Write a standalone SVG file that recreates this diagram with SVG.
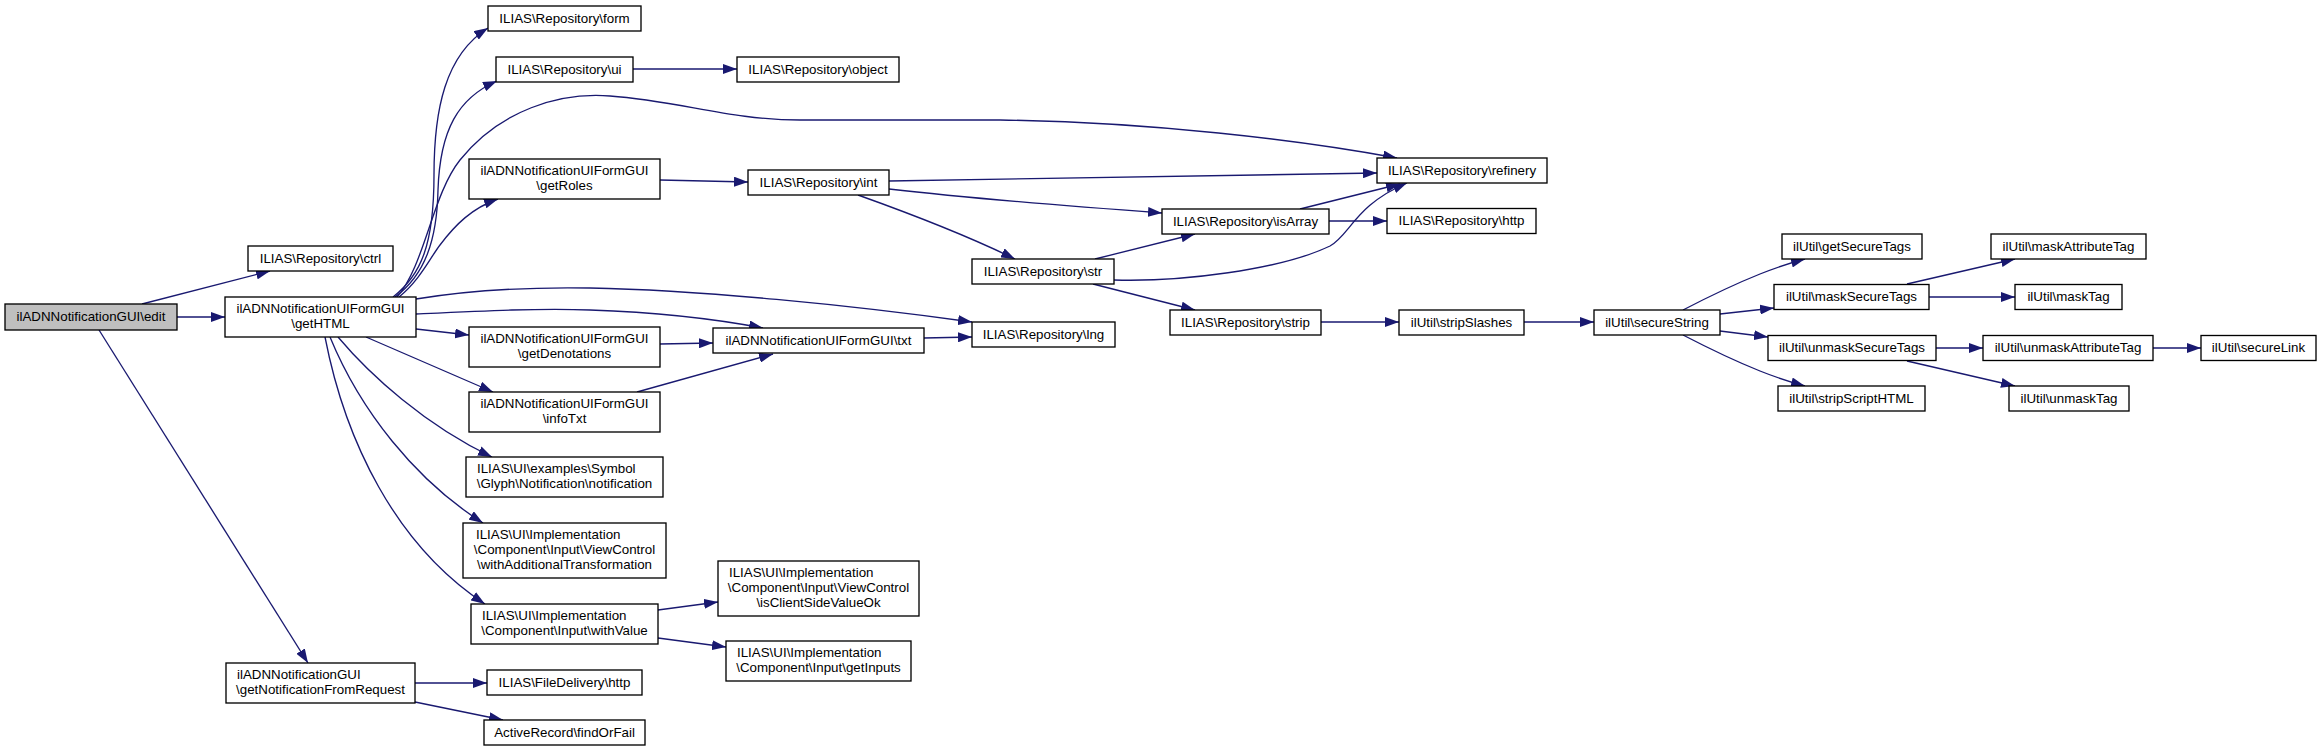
<svg xmlns="http://www.w3.org/2000/svg" width="2321" height="752" viewBox="0 0 2321 752">
<style>
.n rect{fill:#fff;stroke:#000;stroke-width:1.33}
.n text{font-family:"Liberation Sans",Arial,sans-serif;font-size:13.33px;fill:#000;text-anchor:middle}
.n text.l{text-anchor:start}
.e path{fill:none;stroke:#191970;stroke-width:1.33;marker-end:url(#ah)}
</style>
<defs>
<marker id="ah" markerWidth="14" markerHeight="10" refX="14" refY="5" orient="auto" markerUnits="userSpaceOnUse">
<path d="M0,0 L14,5 L0,10 z" fill="#191970"/>
</marker>
</defs>
<rect width="2321" height="752" fill="#fff"/>
<g id="edges" class="e">
<path d="M142,304 L270,271"/>
<path d="M177,317 L225,317"/>
<path d="M99,330 L308,663"/>
<path d="M393,297 C421,275 434,245 434,175 C434,110 445,55 488,28"/>
<path d="M395,297 C425,275 437,240 438,190 C440,130 458,98 497,81"/>
<path d="M397,297 C425,265 432,195 460,160 C500,110 560,92 610,96 C680,101 730,120 800,120 L1000,120 C1150,122 1300,140 1397,158"/>
<path d="M399,297 C420,280 430,258 440,245 C455,225 472,208 498,199"/>
<path d="M416,299 C470,290 530,287 590,288 C700,290 850,305 972,322"/>
<path d="M416,314 C480,311 540,308 590,310 C650,312 710,318 763,328"/>
<path d="M416,329 L469,335"/>
<path d="M366,337 L493,392"/>
<path d="M338,337 C370,375 425,425 492,457"/>
<path d="M330,337 C360,410 415,480 483,523"/>
<path d="M325,337 C345,440 395,545 485,604"/>
<path d="M633,69 L737,69"/>
<path d="M660,180 L748,182"/>
<path d="M889,181 L1377,173"/>
<path d="M889,189 C950,196 1080,207 1162,213"/>
<path d="M858,195 C900,210 960,232 1015,259"/>
<path d="M660,344 L713,343"/>
<path d="M637,392 L773,354"/>
<path d="M924,338 L972,337"/>
<path d="M1095,259 L1195,234"/>
<path d="M1114,280 C1180,282 1280,270 1330,246 C1350,235 1355,205 1407,183"/>
<path d="M1093,284 L1195,310"/>
<path d="M1300,209 L1400,184"/>
<path d="M1329,221 L1387,221"/>
<path d="M1321,322 L1399,322"/>
<path d="M1524,322 L1594,322"/>
<path d="M1683,310 C1710,296 1740,282 1760,274 C1775,268 1790,263 1805,259"/>
<path d="M1720,314 L1774,308"/>
<path d="M1720,331 L1768,337"/>
<path d="M1683,335 C1710,349 1740,363 1760,371 C1775,377 1790,382 1805,386"/>
<path d="M1907,284 L2015,259"/>
<path d="M1929,297 L2015,297"/>
<path d="M1936,348 L1983,348"/>
<path d="M1907,361 L2015,386"/>
<path d="M2153,348 L2201,348"/>
<path d="M658,610 L718,602"/>
<path d="M658,638 L726,647"/>
<path d="M415,683 L487,683"/>
<path d="M415,702 L503,720"/>
</g>
<g id="edit" class="n"><rect x="5" y="304" width="172" height="26" style="fill:#bfbfbf"/><text x="91" y="321">ilADNNotificationGUI\edit</text></g>
<g id="ctrl" class="n"><rect x="248" y="246" width="145" height="25"/><text x="320.5" y="262.5">ILIAS\Repository\ctrl</text></g>
<g id="getHTML" class="n"><rect x="225" y="297" width="191" height="40"/><text x="320.5" y="313">ilADNNotificationUIFormGUI</text><text x="320.5" y="328">\getHTML</text></g>
<g id="getNotificationFromRequest" class="n"><rect x="226" y="663" width="189" height="40"/><text class="l" x="237" y="679">ilADNNotificationGUI</text><text x="320.5" y="694">\getNotificationFromRequest</text></g>
<g id="form" class="n"><rect x="488" y="6" width="153" height="25"/><text x="564.5" y="22.5">ILIAS\Repository\form</text></g>
<g id="ui" class="n"><rect x="496" y="57" width="137" height="25"/><text x="564.5" y="73.5">ILIAS\Repository\ui</text></g>
<g id="object" class="n"><rect x="737" y="57" width="162" height="25"/><text x="818" y="73.5">ILIAS\Repository\object</text></g>
<g id="getRoles" class="n"><rect x="469" y="159" width="191" height="40"/><text x="564.5" y="175">ilADNNotificationUIFormGUI</text><text x="564.5" y="190">\getRoles</text></g>
<g id="int" class="n"><rect x="748" y="170" width="141" height="25"/><text x="818.5" y="186.5">ILIAS\Repository\int</text></g>
<g id="getDenotations" class="n"><rect x="469" y="327" width="191" height="40"/><text x="564.5" y="343">ilADNNotificationUIFormGUI</text><text x="564.5" y="358">\getDenotations</text></g>
<g id="txt" class="n"><rect x="713" y="328" width="211" height="25"/><text x="818.5" y="344.5">ilADNNotificationUIFormGUI\txt</text></g>
<g id="infoTxt" class="n"><rect x="469" y="392" width="191" height="40"/><text x="564.5" y="408">ilADNNotificationUIFormGUI</text><text x="564.5" y="423">\infoTxt</text></g>
<g id="notification" class="n"><rect x="466" y="457" width="197" height="40"/><text class="l" x="477" y="473">ILIAS\UI\examples\Symbol</text><text x="564.5" y="488">\Glyph\Notification\notification</text></g>
<g id="withAdditionalTransformation" class="n"><rect x="463" y="523" width="203" height="55"/><text class="l" x="476" y="539">ILIAS\UI\Implementation</text><text x="564.5" y="554">\Component\Input\ViewControl</text><text x="564.5" y="569">\withAdditionalTransformation</text></g>
<g id="withValue" class="n"><rect x="471" y="604" width="187" height="40"/><text class="l" x="482" y="620">ILIAS\UI\Implementation</text><text x="564.5" y="635">\Component\Input\withValue</text></g>
<g id="isClientSideValueOk" class="n"><rect x="718" y="561" width="201" height="55"/><text class="l" x="729" y="577">ILIAS\UI\Implementation</text><text x="818.5" y="592">\Component\Input\ViewControl</text><text x="818.5" y="607">\isClientSideValueOk</text></g>
<g id="getInputs" class="n"><rect x="726" y="641" width="185" height="40"/><text class="l" x="737" y="657">ILIAS\UI\Implementation</text><text x="818.5" y="672">\Component\Input\getInputs</text></g>
<g id="fdhttp" class="n"><rect x="487" y="670" width="155" height="25"/><text x="564.5" y="686.5">ILIAS\FileDelivery\http</text></g>
<g id="findOrFail" class="n"><rect x="484" y="720" width="161" height="25"/><text x="564.5" y="737">ActiveRecord\findOrFail</text></g>
<g id="refinery" class="n"><rect x="1377" y="158" width="170" height="25"/><text x="1462" y="174.5">ILIAS\Repository\refinery</text></g>
<g id="isArray" class="n"><rect x="1162" y="209" width="167" height="25"/><text x="1245.5" y="225.5">ILIAS\Repository\isArray</text></g>
<g id="http" class="n"><rect x="1387" y="208.5" width="149" height="25"/><text x="1461.5" y="225">ILIAS\Repository\http</text></g>
<g id="str" class="n"><rect x="972" y="259" width="142" height="25"/><text x="1043" y="275.5">ILIAS\Repository\str</text></g>
<g id="strip" class="n"><rect x="1170" y="310" width="151" height="25"/><text x="1245.5" y="326.5">ILIAS\Repository\strip</text></g>
<g id="lng" class="n"><rect x="972" y="322" width="143" height="25"/><text x="1043.5" y="338.5">ILIAS\Repository\lng</text></g>
<g id="stripSlashes" class="n"><rect x="1399" y="310" width="125" height="25"/><text x="1461.5" y="326.5">ilUtil\stripSlashes</text></g>
<g id="secureString" class="n"><rect x="1594" y="310" width="126" height="25"/><text x="1657" y="326.5">ilUtil\secureString</text></g>
<g id="getSecureTags" class="n"><rect x="1782" y="234" width="140" height="25"/><text x="1852" y="250.5">ilUtil\getSecureTags</text></g>
<g id="maskSecureTags" class="n"><rect x="1774" y="284.5" width="155" height="25"/><text x="1851.5" y="301">ilUtil\maskSecureTags</text></g>
<g id="unmaskSecureTags" class="n"><rect x="1768" y="335.5" width="168" height="25"/><text x="1852" y="352">ilUtil\unmaskSecureTags</text></g>
<g id="stripScriptHTML" class="n"><rect x="1778" y="386" width="147" height="25"/><text x="1851.5" y="402.5">ilUtil\stripScriptHTML</text></g>
<g id="maskAttributeTag" class="n"><rect x="1991" y="234" width="155" height="25"/><text x="2068.5" y="250.5">ilUtil\maskAttributeTag</text></g>
<g id="maskTag" class="n"><rect x="2015" y="284.5" width="107" height="25"/><text x="2068.5" y="301">ilUtil\maskTag</text></g>
<g id="unmaskAttributeTag" class="n"><rect x="1983" y="335.5" width="170" height="25"/><text x="2068" y="352">ilUtil\unmaskAttributeTag</text></g>
<g id="secureLink" class="n"><rect x="2201" y="335.5" width="115" height="25"/><text x="2258.5" y="352">ilUtil\secureLink</text></g>
<g id="unmaskTag" class="n"><rect x="2009" y="386" width="120" height="25"/><text x="2069" y="402.5">ilUtil\unmaskTag</text></g>
</svg>
